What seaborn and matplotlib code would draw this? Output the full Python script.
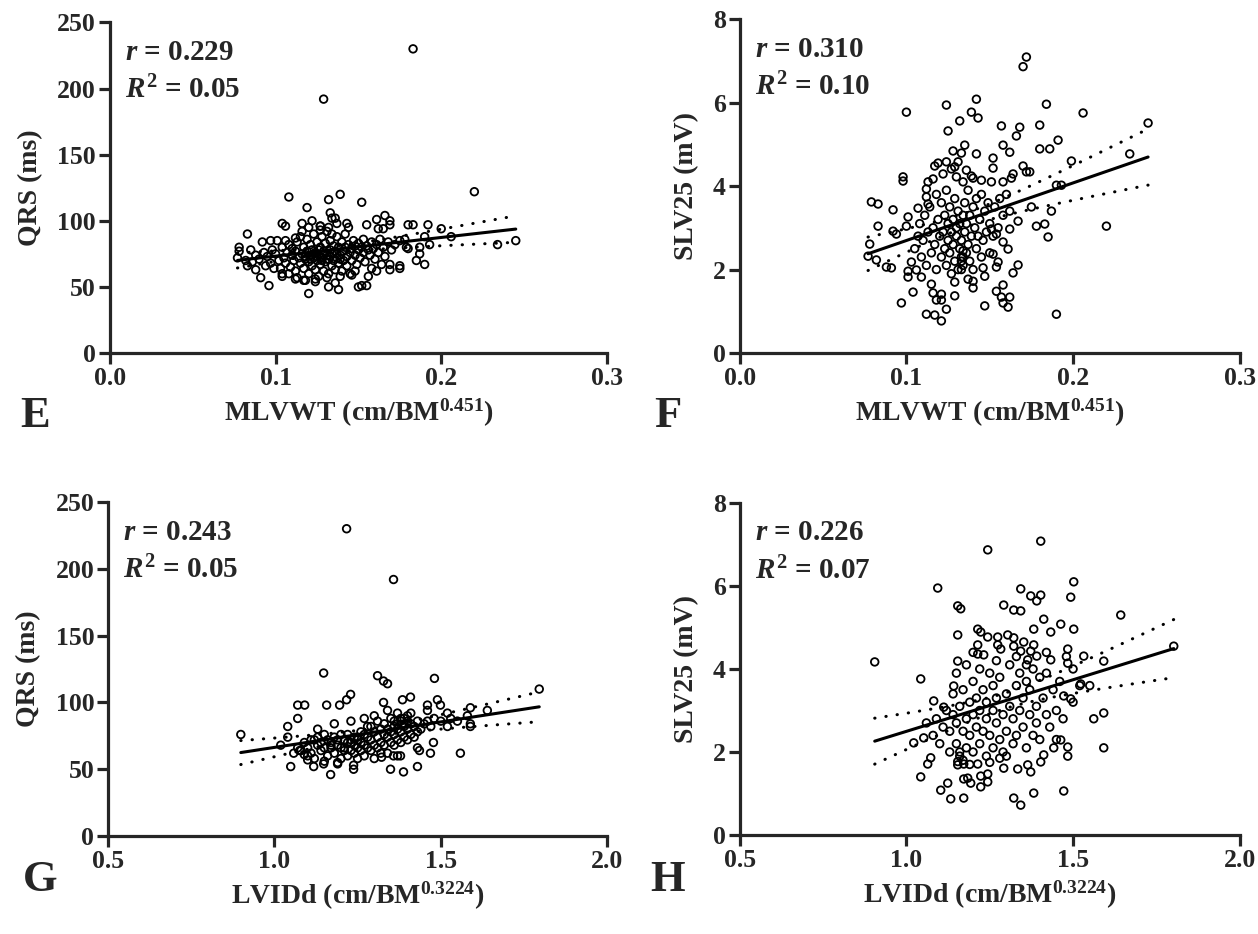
import numpy as np
import matplotlib
matplotlib.use("Agg")
import matplotlib.pyplot as plt
import seaborn as sns

# Panel E: MLVWT vs QRS
e_pts = [
    (0.183, 230), (0.129, 192), (0.220, 122), (0.108, 118), (0.139, 120), (0.132, 116),
    (0.152, 114), (0.119, 110), (0.133, 106), (0.134, 102), (0.136, 102), (0.104, 98),
    (0.106, 96), (0.116, 98), (0.122, 100), (0.127, 96), (0.127, 93), (0.132, 95),
    (0.137, 98), (0.143, 98), (0.144, 95), (0.155, 97), (0.161, 101), (0.166, 104),
    (0.169, 100), (0.169, 97), (0.162, 94), (0.165, 94), (0.180, 97), (0.183, 97),
    (0.192, 97), (0.200, 94), (0.206, 88), (0.190, 88), (0.193, 82), (0.187, 80),
    (0.187, 75), (0.185, 70), (0.190, 67), (0.234, 82), (0.245, 85), (0.179, 80),
    (0.175, 66), (0.175, 64), (0.169, 67), (0.169, 63), (0.164, 67), (0.161, 62),
    (0.158, 64), (0.156, 58), (0.155, 51), (0.152, 51), (0.150, 50), (0.138, 48),
    (0.132, 50), (0.120, 45), (0.096, 51), (0.091, 57), (0.088, 63), (0.083, 66),
    (0.083, 90), (0.077, 72), (0.078, 77), (0.078, 80), (0.092, 84), (0.097, 85),
    (0.101, 85), (0.112, 87), (0.104, 60), (0.104, 58), (0.094, 66), (0.099, 64),
    (0.112, 56), (0.117, 55), (0.124, 56), (0.136, 53), (0.146, 59), (0.148, 62),
    (0.100, 75), (0.102, 70), (0.104, 80), (0.105, 72), (0.106, 68), (0.107, 76),
    (0.108, 82), (0.109, 65), (0.110, 74), (0.110, 79), (0.111, 70), (0.112, 62),
    (0.112, 77), (0.113, 84), (0.114, 72), (0.115, 68), (0.115, 88), (0.116, 75),
    (0.117, 64), (0.117, 80), (0.118, 71), (0.119, 77), (0.119, 86), (0.120, 60),
    (0.120, 69), (0.121, 74), (0.121, 82), (0.122, 66), (0.122, 78), (0.123, 72),
    (0.123, 90), (0.124, 63), (0.124, 76), (0.125, 70), (0.125, 84), (0.126, 58),
    (0.126, 74), (0.127, 67), (0.127, 80), (0.128, 72), (0.128, 88), (0.129, 62),
    (0.129, 77), (0.130, 69), (0.130, 83), (0.131, 74), (0.131, 92), (0.132, 60),
    (0.132, 71), (0.133, 78), (0.133, 85), (0.134, 66), (0.134, 75), (0.135, 81),
    (0.135, 70), (0.136, 63), (0.136, 77), (0.137, 72), (0.137, 88), (0.138, 68),
    (0.138, 80), (0.139, 74), (0.140, 62), (0.140, 84), (0.141, 77), (0.141, 70),
    (0.142, 80), (0.143, 73), (0.143, 66), (0.144, 82), (0.145, 76), (0.145, 60),
    (0.146, 79), (0.146, 70), (0.147, 85), (0.148, 74), (0.148, 81), (0.149, 67),
    (0.150, 78), (0.150, 83), (0.151, 72), (0.152, 80), (0.153, 76), (0.153, 86),
    (0.154, 69), (0.155, 81), (0.156, 78), (0.157, 74), (0.158, 84), (0.159, 79),
    (0.160, 71), (0.161, 82), (0.162, 76), (0.163, 86), (0.165, 80), (0.166, 73),
    (0.168, 84), (0.170, 78), (0.172, 82), (0.175, 85), (0.178, 86), (0.180, 79),
    (0.103, 64), (0.106, 85), (0.108, 60), (0.113, 57), (0.116, 92), (0.118, 55),
    (0.120, 95), (0.124, 54), (0.127, 96), (0.131, 57), (0.134, 90), (0.139, 58),
    (0.142, 90), (0.095, 73), (0.097, 68), (0.098, 78), (0.093, 76), (0.090, 71),
    (0.088, 74), (0.086, 69), (0.085, 78), (0.082, 70),
    (0.118, 73), (0.121, 71), (0.123, 75), (0.125, 73), (0.126, 78), (0.128, 70),
    (0.129, 74), (0.131, 71), (0.133, 73), (0.135, 76), (0.137, 75), (0.139, 71),
]

# Panel F: MLVWT vs SLV25
f_pts = [
    (0.172, 7.09), (0.170, 6.86), (0.100, 5.77), (0.124, 5.94), (0.142, 6.08), (0.139, 5.77),
    (0.132, 5.56), (0.143, 5.63), (0.184, 5.96), (0.206, 5.75), (0.245, 5.51), (0.125, 5.32),
    (0.157, 5.44), (0.168, 5.41), (0.166, 5.20), (0.180, 5.46), (0.191, 5.10), (0.180, 4.89),
    (0.186, 4.89), (0.158, 4.98), (0.162, 4.81), (0.142, 4.77), (0.128, 4.84), (0.133, 4.79),
    (0.135, 4.98), (0.234, 4.77), (0.199, 4.60), (0.152, 4.67), (0.152, 4.43), (0.117, 4.48),
    (0.119, 4.55), (0.124, 4.58), (0.131, 4.58), (0.129, 4.46), (0.127, 4.41), (0.122, 4.29),
    (0.136, 4.38), (0.130, 4.22), (0.139, 4.24), (0.140, 4.19), (0.145, 4.14), (0.134, 4.10),
    (0.151, 4.10), (0.158, 4.10), (0.163, 4.19), (0.164, 4.29), (0.170, 4.48), (0.172, 4.34),
    (0.174, 4.34), (0.098, 4.22), (0.098, 4.12), (0.116, 4.17), (0.113, 4.10), (0.190, 4.02),
    (0.193, 4.02), (0.079, 3.62), (0.083, 3.57), (0.092, 3.43), (0.083, 3.04), (0.078, 2.61),
    (0.077, 2.32), (0.082, 2.23), (0.088, 2.06), (0.091, 2.04), (0.092, 2.92), (0.094, 2.85),
    (0.097, 1.20), (0.104, 1.46), (0.112, 0.93), (0.117, 0.91), (0.121, 0.77), (0.124, 1.05),
    (0.116, 1.44), (0.121, 1.41), (0.118, 1.27), (0.121, 1.27), (0.129, 1.37), (0.147, 1.13),
    (0.140, 1.56), (0.157, 1.34), (0.162, 1.34), (0.158, 1.20), (0.161, 1.10), (0.158, 1.63),
    (0.154, 1.48), (0.190, 0.93), (0.220, 3.04), (0.185, 2.78), (0.178, 3.04), (0.183, 3.09),
    (0.187, 3.40), (0.175, 3.50), (0.167, 2.11), (0.164, 1.92), (0.155, 2.18), (0.154, 2.06),
    (0.152, 2.37), (0.161, 2.49), (0.158, 2.66), (0.167, 3.16), (0.162, 2.97), (0.154, 2.85),
    (0.151, 2.97), (0.147, 1.84), (0.146, 2.04), (0.140, 1.72), (0.137, 1.77), (0.129, 1.70),
    (0.115, 1.65), (0.101, 1.82), (0.101, 1.96), (0.103, 2.18), (0.109, 1.82), (0.106, 1.99),
    (0.101, 3.26), (0.100, 3.04), (0.107, 3.47), (0.113, 3.57), (0.112, 3.74), (0.112, 3.93),
    (0.105, 2.5), (0.107, 2.8), (0.108, 3.1), (0.109, 2.3), (0.110, 2.7), (0.111, 3.3),
    (0.112, 2.1), (0.113, 2.9), (0.114, 3.5), (0.115, 2.4), (0.116, 3.0), (0.117, 2.6),
    (0.118, 3.8), (0.118, 2.0), (0.119, 3.2), (0.120, 2.8), (0.121, 2.3), (0.121, 3.6),
    (0.122, 2.9), (0.123, 2.5), (0.123, 3.3), (0.124, 2.1), (0.124, 3.9), (0.125, 2.7),
    (0.125, 3.1), (0.126, 2.4), (0.126, 3.5), (0.127, 1.9), (0.127, 2.9), (0.128, 3.2),
    (0.128, 2.6), (0.129, 3.7), (0.129, 2.2), (0.130, 3.0), (0.130, 2.8), (0.131, 3.4),
    (0.131, 2.0), (0.132, 2.5), (0.132, 3.1), (0.133, 2.3), (0.133, 2.7), (0.134, 3.3),
    (0.134, 2.1), (0.135, 2.9), (0.135, 3.6), (0.136, 2.4), (0.136, 3.1), (0.137, 2.6),
    (0.137, 3.9), (0.138, 2.2), (0.138, 3.3), (0.139, 2.8), (0.140, 3.5), (0.140, 2.0),
    (0.141, 3.0), (0.142, 2.5), (0.142, 3.7), (0.143, 2.8), (0.144, 3.2), (0.145, 2.3),
    (0.145, 3.8), (0.146, 2.7), (0.147, 3.4), (0.148, 2.9), (0.149, 3.6), (0.150, 2.4),
    (0.150, 3.1), (0.152, 2.8), (0.153, 3.5), (0.155, 3.0), (0.156, 3.7), (0.158, 3.3),
    (0.160, 3.8), (0.162, 3.4), (0.133, 2.2), (0.133, 2.0), (0.134, 2.3), (0.134, 2.45),
]

# Panel G: LVIDd vs QRS
g_pts = [
    (1.217, 230), (1.358, 192), (1.148, 122), (1.310, 120), (1.328, 116), (1.340, 114),
    (1.481, 118), (1.796, 110), (1.229, 106), (1.217, 102), (1.409, 104), (1.385, 102),
    (1.070, 98), (1.091, 98), (1.157, 98), (1.196, 98), (1.328, 100), (1.490, 102),
    (1.499, 98), (1.460, 98), (1.460, 94), (1.520, 92), (1.589, 96), (1.640, 94),
    (1.070, 88), (1.040, 82), (1.040, 74), (0.899, 76), (1.019, 68), (1.049, 52),
    (1.058, 62), (1.118, 52), (1.148, 54), (1.169, 46), (1.190, 55), (1.238, 50),
    (1.238, 53), (1.349, 50), (1.388, 48), (1.430, 52), (1.469, 62), (1.559, 62),
    (1.478, 70), (1.589, 82), (1.589, 84), (1.530, 88), (1.436, 64), (1.379, 60),
    (1.358, 60), (1.340, 62), (1.322, 59), (1.076, 64), (1.100, 57), (1.100, 60),
    (1.12, 72), (1.13, 68), (1.13, 74), (1.14, 64), (1.14, 70), (1.15, 66),
    (1.15, 76), (1.16, 60), (1.16, 72), (1.17, 66), (1.17, 70), (1.17, 68),
    (1.18, 62), (1.18, 74), (1.19, 68), (1.19, 72), (1.20, 58), (1.20, 66),
    (1.20, 76), (1.21, 64), (1.21, 72), (1.21, 66), (1.22, 60), (1.22, 70),
    (1.22, 76), (1.23, 64), (1.23, 72), (1.23, 70), (1.24, 62), (1.24, 68),
    (1.24, 74), (1.25, 58), (1.25, 66), (1.25, 72), (1.25, 74), (1.26, 64),
    (1.26, 70), (1.26, 78), (1.27, 60), (1.27, 68), (1.27, 76), (1.28, 66),
    (1.28, 74), (1.28, 82), (1.29, 64), (1.29, 72), (1.29, 82), (1.30, 68),
    (1.30, 78), (1.30, 90), (1.31, 66), (1.31, 74), (1.31, 86), (1.32, 70),
    (1.32, 80), (1.32, 62), (1.33, 76), (1.33, 84), (1.33, 68), (1.34, 74),
    (1.34, 80), (1.35, 70), (1.35, 78), (1.35, 88), (1.36, 68), (1.36, 76),
    (1.36, 82), (1.37, 72), (1.37, 80), (1.37, 92), (1.38, 70), (1.38, 78),
    (1.38, 86), (1.39, 74), (1.39, 82), (1.39, 88), (1.40, 72), (1.40, 80),
    (1.40, 86), (1.41, 76), (1.41, 84), (1.42, 74), (1.42, 82), (1.43, 78),
    (1.43, 86), (1.44, 80), (1.45, 84), (1.46, 86), (1.47, 82), (1.48, 88),
    (1.50, 86), (1.07, 66), (1.08, 64), (1.09, 70), (1.10, 66), (1.11, 62),
    (1.11, 72), (1.09, 61), (1.12, 58), (1.13, 80), (1.15, 56), (1.18, 84),
    (1.19, 54), (1.23, 86), (1.27, 88), (1.30, 58), (1.34, 94), (1.37, 60),
    (1.41, 92), (1.43, 66), (1.52, 82), (1.55, 86), (1.58, 90),
    (1.37, 84), (1.38, 88), (1.40, 90), (1.36, 86), (1.39, 84),
]

# Panel H: LVIDd vs SLV25
h_pts = [
    (1.403, 7.08), (1.244, 6.87), (1.094, 5.95), (1.502, 6.10), (1.493, 5.73), (1.343, 5.93),
    (1.373, 5.76), (1.403, 5.78), (1.391, 5.64), (1.154, 5.52), (1.163, 5.45), (1.292, 5.54),
    (1.322, 5.42), (1.343, 5.40), (1.643, 5.30), (1.412, 5.20), (1.463, 5.08), (1.502, 4.96),
    (1.382, 4.96), (1.433, 4.89), (1.214, 4.96), (1.223, 4.89), (1.154, 4.82), (1.244, 4.77),
    (1.274, 4.77), (1.304, 4.82), (1.322, 4.75), (1.214, 4.58), (1.214, 4.36), (1.232, 4.34),
    (1.274, 4.58), (1.283, 4.48), (1.322, 4.55), (1.352, 4.65), (1.382, 4.58), (1.343, 4.43),
    (1.373, 4.43), (1.391, 4.31), (1.484, 4.48), (1.532, 4.31), (1.592, 4.19), (1.802, 4.55),
    (0.905, 4.17), (1.154, 4.19), (1.433, 4.22), (1.484, 4.14), (1.364, 4.22),
    (1.043, 3.76), (1.142, 3.59), (1.082, 3.23), (1.112, 3.08), (1.562, 2.80), (1.592, 2.94),
    (1.592, 2.10), (1.022, 2.22), (1.052, 2.34), (1.073, 1.86), (1.064, 1.71), (1.043, 1.40),
    (1.124, 1.25), (1.103, 1.08), (1.133, 0.87), (1.172, 0.89), (1.322, 0.89), (1.343, 0.72),
    (1.382, 1.01), (1.472, 1.06), (1.184, 1.37), (1.172, 1.35), (1.193, 1.25), (1.223, 1.42),
    (1.244, 1.47), (1.223, 1.16), (1.244, 1.28), (1.154, 1.69), (1.154, 1.77), (1.172, 1.71),
    (1.214, 1.71), (1.292, 1.61), (1.334, 1.59), (1.373, 1.52), (1.364, 1.69), (1.403, 1.76),
    (1.412, 1.93), (1.484, 1.90), (1.484, 2.12), (1.463, 2.29), (1.442, 2.10), (1.523, 3.64),
    (1.493, 3.28), (1.472, 3.35),
    (1.06, 2.7), (1.08, 2.4), (1.09, 2.8), (1.10, 2.2),
    (1.11, 2.6), (1.12, 3.0), (1.13, 2.0), (1.13, 2.5), (1.14, 2.9),
    (1.14, 3.4), (1.15, 2.2), (1.15, 2.7), (1.15, 3.9), (1.16, 3.1), (1.16, 1.9),
    (1.17, 2.5), (1.17, 3.5), (1.18, 2.1), (1.18, 2.8), (1.18, 4.1), (1.19, 3.2),
    (1.19, 2.4), (1.20, 2.0), (1.20, 2.9), (1.20, 3.7), (1.21, 2.6), (1.21, 3.3),
    (1.22, 2.2), (1.22, 3.0), (1.22, 4.0), (1.23, 2.5), (1.23, 3.5), (1.24, 1.9),
    (1.24, 2.8), (1.24, 3.2), (1.25, 2.4), (1.25, 3.9), (1.26, 2.1), (1.26, 3.0),
    (1.26, 3.6), (1.27, 2.7), (1.27, 3.3), (1.28, 2.3), (1.28, 3.8), (1.29, 2.9),
    (1.29, 2.0), (1.30, 3.4), (1.30, 2.5), (1.31, 3.1), (1.31, 4.1), (1.32, 2.2),
    (1.32, 2.8), (1.33, 3.6), (1.33, 2.4), (1.34, 3.0), (1.34, 3.9), (1.35, 2.6),
    (1.35, 3.3), (1.36, 2.1), (1.36, 3.7), (1.37, 2.9), (1.37, 3.5), (1.38, 2.4),
    (1.38, 4.0), (1.39, 3.1), (1.39, 2.7), (1.40, 3.8), (1.40, 2.3), (1.41, 3.3),
    (1.42, 2.9), (1.42, 3.9), (1.43, 2.6), (1.44, 3.5), (1.45, 2.3), (1.45, 3.0),
    (1.46, 3.7), (1.47, 2.8), (1.48, 4.3), (1.50, 3.2), (1.50, 4.0), (1.52, 3.6),
    (1.55, 3.6), (1.16, 2.0), (1.17, 1.8), (1.19, 1.7), (1.25, 1.75), (1.28, 1.85),
    (1.30, 1.9), (1.20, 4.4), (1.27, 4.2), (1.33, 4.3),
    (1.36, 4.1), (1.42, 4.4),
]

panel_letters = ["E", "F", "G", "H"]
stats_text = [("0.229", "0.05"), ("0.310", "0.10"), ("0.243", "0.05"), ("0.226", "0.07")]
x_labels = [r"MLVWT (cm/BM$^{0.451}$)", r"MLVWT (cm/BM$^{0.451}$)",
            r"LVIDd (cm/BM$^{0.3224}$)", r"LVIDd (cm/BM$^{0.3224}$)"]
y_labels = ["QRS (ms)", "SLV25 (mV)", "QRS (ms)", "SLV25 (mV)"]
x_ticks = [[0.0, 0.1, 0.2, 0.3], [0.0, 0.1, 0.2, 0.3], [0.5, 1.0, 1.5, 2.0], [0.5, 1.0, 1.5, 2.0]]
y_ticks = [[0, 50, 100, 150, 200, 250], [0, 2, 4, 6, 8], [0, 50, 100, 150, 200, 250], [0, 2, 4, 6, 8]]

sns.set_style("ticks")
plt.rcParams["font.family"] = ["Liberation Serif", "DejaVu Serif"]
plt.rcParams["font.weight"] = "bold"
plt.rcParams["mathtext.fontset"] = "custom"
plt.rcParams["mathtext.rm"] = "Liberation Serif:bold"
plt.rcParams["mathtext.bf"] = "Liberation Serif:bold"
plt.rcParams["mathtext.it"] = "Liberation Serif:italic:bold"

fig = plt.figure(figsize=(12.58, 9.34), dpi=100)
boxes = [
    [0.0874, 0.622, 0.395, 0.354],
    [0.588, 0.622, 0.3975, 0.3576],
    [0.0859, 0.1049, 0.3967, 0.3576],
    [0.588, 0.106, 0.3975, 0.3555],
]
letter_pos = [(0.028, 0.555), (0.531, 0.555), (0.032, 0.058), (0.531, 0.058)]


def fit_with_band(x, y):
    # least-squares line and 95% confidence band of the mean
    n = len(x)
    slope, icept = np.polyfit(x, y, 1)
    xs = np.linspace(x.min(), x.max(), 200)
    yhat = slope * xs + icept
    resid = y - (slope * x + icept)
    s = np.sqrt(np.sum(resid ** 2) / (n - 2))
    sxx = np.sum((x - x.mean()) ** 2)
    half = 1.97 * s * np.sqrt(1.0 / n + (xs - x.mean()) ** 2 / sxx)
    return xs, yhat, yhat - half, yhat + half


for i, pts in enumerate([e_pts, f_pts, g_pts, h_pts]):
    ax = fig.add_axes(boxes[i])
    arr = np.array(pts, dtype=float)
    x, y = arr[:, 0], arr[:, 1]

    sns.scatterplot(x=x, y=y, ax=ax, marker="o", s=30, facecolor="none",
                    edgecolor="black", linewidth=1.3, zorder=3)
    xs, yhat, lo, hi = fit_with_band(x, y)
    ax.plot(xs, yhat, color="black", lw=2.2, zorder=4)
    for band in (lo, hi):
        ax.plot(xs, band, color="black", lw=2.2, linestyle=(0, (0.1, 3.6)),
                dash_capstyle="round", zorder=4)

    ax.set_xlim(x_ticks[i][0], x_ticks[i][-1])
    ax.set_ylim(y_ticks[i][0], y_ticks[i][-1])
    ax.set_xticks(x_ticks[i])
    ax.set_yticks(y_ticks[i])
    ax.set_xticklabels([f"{v:.1f}" for v in x_ticks[i]])
    ax.tick_params(axis="both", labelsize=18.5, width=2.3, length=8,
                   direction="out", pad=2)
    for lab in ax.get_xticklabels() + ax.get_yticklabels():
        lab.set_fontweight("bold")
    sns.despine(ax=ax)
    for side in ("left", "bottom"):
        ax.spines[side].set_linewidth(2.3)

    ax.set_xlabel(x_labels[i], fontsize=20, fontweight="bold", labelpad=5)
    ax.set_ylabel(y_labels[i], fontsize=20, fontweight="bold", labelpad=10)

    r_val, r2_val = stats_text[i]
    ax.text(0.03, 0.91, r"$r$ = " + r_val, transform=ax.transAxes,
            fontsize=21, fontweight="bold", va="center", ha="left")
    ax.text(0.03, 0.795, r"$R^{\mathit{2}}$ = " + r2_val, transform=ax.transAxes,
            fontsize=21, fontweight="bold", va="center", ha="left")

    fig.text(letter_pos[i][0], letter_pos[i][1], panel_letters[i], fontsize=32,
             fontweight="bold", va="center", ha="center")

fig.savefig("out.png", dpi=100, facecolor="white")
